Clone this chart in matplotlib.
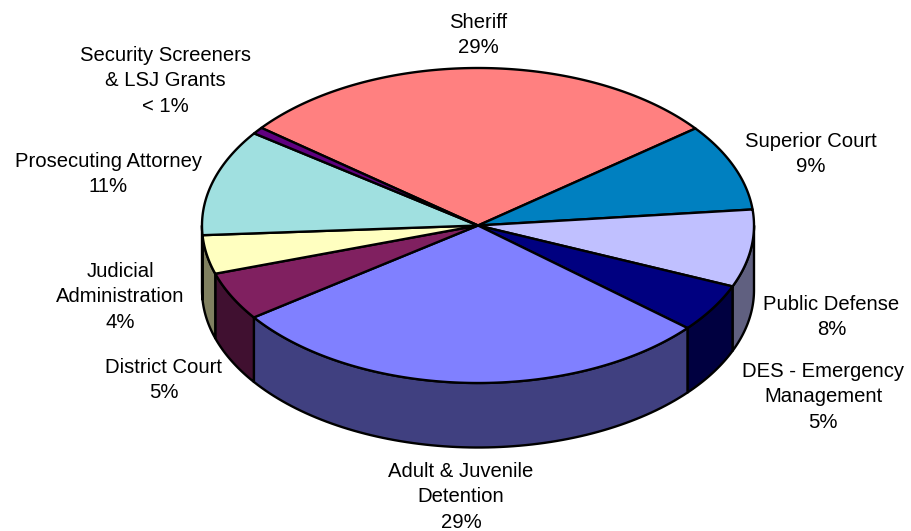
import numpy as np
import matplotlib
matplotlib.use("Agg")
import matplotlib.pyplot as plt
from matplotlib.patches import Polygon

# Budget shares, clockwise from the Sheriff slice
departments = ["Sheriff", "Superior Court", "Public Defense", "DES - Emergency\nManagement",
               "Adult & Juvenile\nDetention", "District Court", "Judicial\nAdministration",
               "Prosecuting Attorney", "Security Screeners\n& LSJ Grants"]
shares = [29, 9, 8, 5, 29, 5, 4, 11, 0.7]
share_text = ["29%", "9%", "8%", "5%", "29%", "5%", "4%", "11%", "< 1%"]
top_colors = ["#FF8080", "#0080C0", "#C0C0FF", "#000080", "#8080FF",
              "#802060", "#FFFFC0", "#A0E0E0", "#600080"]

# Pie geometry in pixel units
CX, CY, RX, RY, DEPTH = 478, 225.5, 276, 157.5, 64.5
START_DEG = -51.7
LINE_W = 1.7

label_centers = [(478, 35), (810.5, 154), (831.5, 317), (823, 397), (461, 497),
                 (163.5, 380), (120.5, 297), (108.5, 174), (165, 81)]


def rim(a_deg, drop=0.0):
    a = np.radians(a_deg)
    return np.column_stack([CX + RX * np.sin(a), CY - RY * np.cos(a) + drop])


def darken(hex_color):
    r, g, b = matplotlib.colors.to_rgb(hex_color)
    return (r / 2, g / 2, b / 2)


fig = plt.figure(figsize=(9.11, 5.31), dpi=100, facecolor="white")
ax = fig.add_axes([0, 0, 1, 1])
ax.set_xlim(0, 911)
ax.set_ylim(531, 0)
ax.axis("off")

sweep = np.array(shares, dtype=float) / sum(shares) * 360
edges = START_DEG + np.concatenate([[0], np.cumsum(sweep)])

# Outer wall: only the part of each slice on the near half of the ellipse
for i, color in enumerate(top_colors):
    lo, hi = max(edges[i], 90), min(edges[i + 1], 270)
    if hi <= lo:
        continue
    arc = np.linspace(lo, hi, 80)
    wall = np.vstack([rim(arc), rim(arc[::-1], DEPTH)])
    ax.add_patch(Polygon(wall, closed=True, facecolor=darken(color), edgecolor="black",
                         linewidth=LINE_W, joinstyle="round"))

# Top face
for i, color in enumerate(top_colors):
    arc = np.linspace(edges[i], edges[i + 1], 120)
    face = np.vstack([[CX, CY], rim(arc)])
    ax.add_patch(Polygon(face, closed=True, facecolor=color, edgecolor="black",
                         linewidth=LINE_W, joinstyle="round"))

for name, pct, (x, y) in zip(departments, share_text, label_centers):
    ax.text(x, y, f"{name}\n{pct}", ha="center", va="center", multialignment="center",
            family="Liberation Sans", fontsize=14.6, color="black", linespacing=1.42)

fig.savefig("out.png", dpi=100, facecolor="white")
